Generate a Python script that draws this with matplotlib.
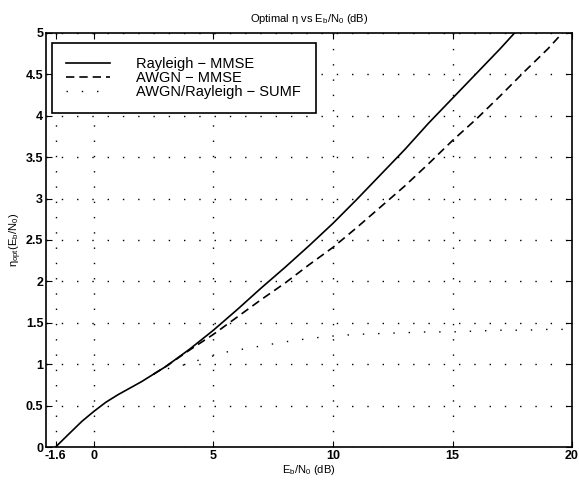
import matplotlib
matplotlib.use("Agg")
import matplotlib.pyplot as plt

plt.rcParams["font.family"] = ["Liberation Sans", "DejaVu Sans"]
plt.rcParams["mathtext.fontset"] = "custom"
plt.rcParams["mathtext.rm"] = "Liberation Sans"
plt.rcParams["mathtext.it"] = "Liberation Sans:italic"

# Rayleigh - MMSE
x_ray = [-1.6, -1, -0.5, 0, 0.5, 1, 1.5, 2, 2.5, 3, 4, 5, 6, 7, 8, 9, 10, 11, 12, 13,
         14, 15, 16, 17, 17.6]
y_ray = [0.0, 0.17, 0.31, 0.43, 0.54, 0.63, 0.71, 0.79, 0.88, 0.97, 1.18, 1.41, 1.66,
         1.92, 2.17, 2.43, 2.70, 2.99, 3.29, 3.59, 3.91, 4.21, 4.51, 4.81, 5.0]

# AWGN - MMSE
x_awgn = [2.5, 3, 4, 5, 6, 7, 8, 9, 10, 11, 12, 13, 14, 15, 16, 17, 18, 19, 19.6]
y_awgn = [0.88, 0.97, 1.17, 1.36, 1.57, 1.78, 1.98, 2.20, 2.41, 2.65, 2.90, 3.15, 3.42,
          3.70, 3.96, 4.24, 4.53, 4.81, 5.0]

# AWGN/Rayleigh - SUMF
x_sumf = [2.5, 3, 3.75, 4.4, 5, 5.6, 6.2, 7, 8, 9, 10, 11, 12, 13, 14, 15, 16, 17, 18, 19, 20]
y_sumf = [0.88, 0.94, 0.99, 1.05, 1.10, 1.15, 1.18, 1.22, 1.27, 1.31, 1.34, 1.36, 1.37,
          1.38, 1.39, 1.39, 1.40, 1.41, 1.41, 1.42, 1.42]

xticks = [-1.6, 0, 5, 10, 15, 20]
xticklabels = ["-1.6", "0", "5", "10", "15", "20"]
yticks = [0, 0.5, 1, 1.5, 2, 2.5, 3, 3.5, 4, 4.5, 5]
yticklabels = ["0", "0.5", "1", "1.5", "2", "2.5", "3", "3.5", "4", "4.5", "5"]

fig = plt.figure(figsize=(5.79, 4.83), dpi=100)
ax = fig.add_axes([0.0795, 0.0745, 0.9085, 0.8575])

ax.plot(x_ray, y_ray, color="black", lw=1.2, label="Rayleigh \u2212 MMSE")
ax.plot(x_awgn, y_awgn, color="black", lw=1.2, linestyle=(0, (5, 3)), label="AWGN \u2212 MMSE")
ax.plot(x_sumf, y_sumf, color="black", lw=1.0, linestyle=(0, (1, 10)),
        label="AWGN/Rayleigh \u2212 SUMF")

ax.set_xlim(-2, 20)
ax.set_ylim(0, 5)
ax.set_xticks(xticks)
ax.set_xticklabels(xticklabels, fontsize=9, fontweight="bold")
ax.set_yticks(yticks)
ax.set_yticklabels(yticklabels, fontsize=9, fontweight="bold")
ax.tick_params(direction="in", top=True, right=True, length=4, pad=2)
ax.grid(True, color="black", lw=1.0, linestyle=(0, (1, 10)))

for s in ax.spines.values():
    s.set_linewidth(1.2)

ax.set_title("Optimal \u03b7 vs E$_\\mathrm{b}$/N$_\\mathrm{0}$ (dB)", fontsize=8, pad=8)
ax.set_xlabel(r"E$_\mathrm{b}$/N$_\mathrm{0}$ (dB)", fontsize=8, labelpad=1)
ax.set_ylabel("\u03b7$_\\mathrm{opt}$(E$_\\mathrm{b}$/N$_\\mathrm{0}$)", fontsize=8, labelpad=1)

leg = ax.legend(loc="upper left", bbox_to_anchor=(0.011, 0.976), borderaxespad=0,
                fancybox=False, edgecolor="black", framealpha=1, fontsize=10.5,
                labelspacing=-0.02, handlelength=3.0, handletextpad=1.8, borderpad=1.0)
leg.get_frame().set_linewidth(1.2)

plt.savefig("out.png", dpi=100)
plt.close(fig)
